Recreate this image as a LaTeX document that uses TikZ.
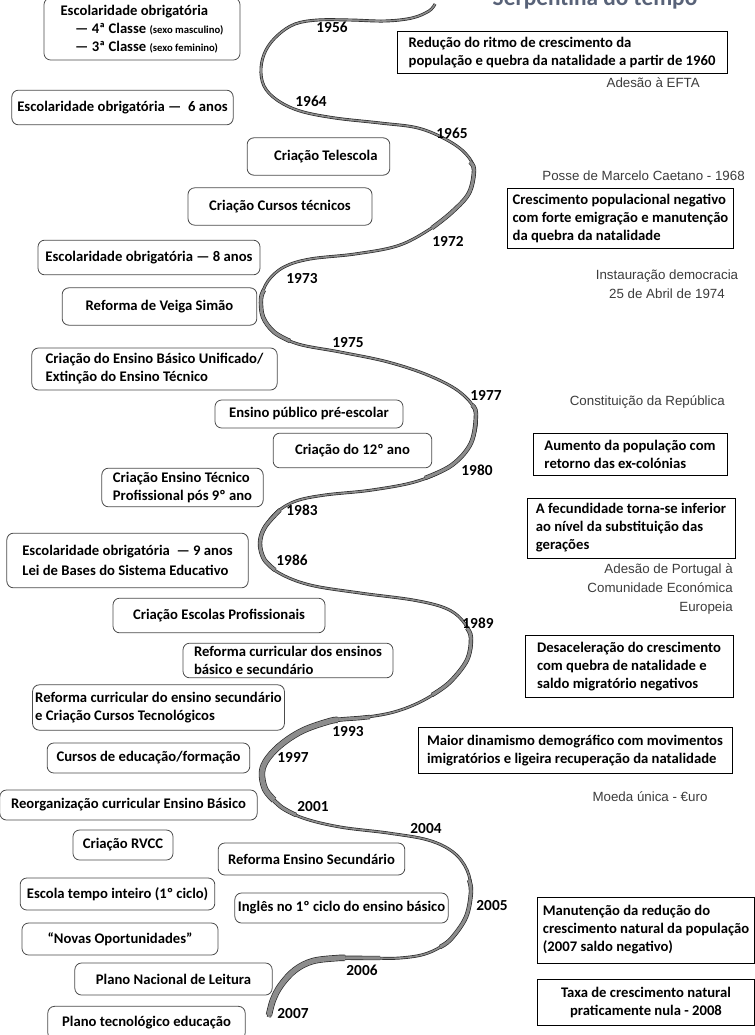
\documentclass[tikz,border=0pt]{standalone}
\usepackage{fontspec}
\setmainfont{Carlito}
\newfontfamily\arialfont{Liberation Sans}
\usetikzlibrary{backgrounds}
\definecolor{notegray}{RGB}{60,60,60}
\definecolor{titleblue}{RGB}{88,98,120}
\newcommand{\boxfont}{\bfseries\fontsize{11}{13.5}\selectfont}
\newcommand{\yearfont}{\bfseries\fontsize{11.5}{13}\selectfont}
\newcommand{\notefont}{\arialfont\fontsize{10}{14.5}\selectfont}
\newcommand{\sexo}[1]{{\fontsize{8}{9}\selectfont #1}}

\begin{document}
\begin{tikzpicture}[x=0.75pt, y=-0.75pt,
	lbox/.style={draw=black!70, line width=0.6pt, rounded corners=5pt, fill=white, font=\boxfont, inner sep=2pt},
	rbox/.style={draw=black, line width=0.7pt, fill=white, font=\boxfont, align=left, inner sep=2pt},
	year/.style={font=\yearfont, inner sep=0pt},
	note/.style={font=\notefont, text=notegray, inner sep=0pt},
	link/.style={draw=black!65, line width=0.5pt},
	ribbon/.style={draw=black!85, line width=0.5pt, double=black!45, double distance=1.2pt},
	ribbon mid/.style={ribbon, double distance=2.3pt},
	ribbon thick/.style={ribbon, double distance=3.8pt}]
	\useasboundingbox (0,0) rectangle (755,1035);
	\clip (0,0) rectangle (755,1035);
	\fill[white] (0,0) rectangle (755,1035);
	% title, cut by the top edge
	\node[font=\bfseries\fontsize{17.5}{19}\selectfont, text=titleblue, anchor=base] (title) at (595,6) {Serpentina do tempo};

	% education boxes (left)
	\node[lbox, align=left, minimum width=147pt, minimum height=46.5pt] (b1956) at (142,29) {Escolaridade obrigatória\\ \hspace*{1em}— 4ª Classe \sexo{(sexo masculino)}\\ \hspace*{1em}— 3ª Classe \sexo{(sexo feminino)}};
	\node[lbox, minimum width=166pt, minimum height=26pt] (b1964) at (122.5,107.5) {Escolaridade obrigatória —\ \ 6 anos};
	\node[lbox, minimum width=107pt, minimum height=28pt] (b1965) at (318.5,156.5) {\hspace*{1em}Criação Telescola};
	\node[lbox, minimum width=138pt, minimum height=28pt] (b1972) at (280,206.5) {Criação Cursos técnicos};
	\node[lbox, minimum width=166.5pt, minimum height=26pt] (b1973) at (149,257.5) {Escolaridade obrigatória — 8 anos};
	\node[lbox, minimum width=146pt, minimum height=28pt] (b1973v) at (159.5,306.5) {Reforma de Veiga Simão};
	\node[lbox, align=left, minimum width=184pt, minimum height=31.5pt] (b1975) at (154.5,369) {Criação do Ensino Básico Unificado/\\Extinção do Ensino Técnico};
	\node[lbox, minimum width=141pt, minimum height=21pt] (b1977) at (309,414) {Ensino público pré-escolar};
	\node[lbox, minimum width=119pt, minimum height=26pt] (b1980) at (352.5,450.5) {Criação do 12º ano};
	\node[lbox, align=left, minimum width=121pt, minimum height=29pt] (b1983) at (182.5,487.5) {Criação Ensino Técnico\\Profissional pós 9º ano};
	\node[lbox, align=left, minimum width=181pt, minimum height=41pt] (b1986) at (127.5,560.5) {Escolaridade obrigatória\ \ — 9 anos\\[1.5pt]Lei de Bases do Sistema Educativo};
	\node[lbox, minimum width=159pt, minimum height=26pt] (b1989) at (219,615.5) {Criação Escolas Profissionais};
	\node[lbox, align=left, minimum width=157.5pt, minimum height=26pt] (b1989r) at (288,660.5) {Reforma curricular dos ensinos\\básico e secundário};
	\node[lbox, align=left, minimum width=185pt, minimum height=34pt] (b1993) at (158.5,707.5) {Reforma curricular do ensino secundário\\e Criação Cursos Tecnológicos};
	\node[lbox, minimum width=152pt, minimum height=22.5pt] (b1997) at (148.5,758) {Cursos de educação/formação};
	\node[lbox, minimum width=193pt, minimum height=22.5pt] (b2001) at (128.5,805) {Reorganização curricular Ensino Básico};
	\node[lbox, minimum width=75pt, minimum height=22.5pt] (b2001r) at (123,845) {Criação RVCC};
	\node[lbox, minimum width=140pt, minimum height=24pt] (b2004) at (311.5,859) {Reforma Ensino Secundário};
	\node[lbox, minimum width=146pt, minimum height=24pt] (b2005e) at (117.5,894) {Escola tempo inteiro (1º ciclo)};
	\node[lbox, minimum width=160pt, minimum height=22.5pt] (b2005) at (341.5,908) {Inglês no 1º ciclo do ensino básico};
	\node[lbox, minimum width=147pt, minimum height=24pt] (b2006n) at (120,939) {“Novas Oportunidades”};
	\node[lbox, minimum width=148pt, minimum height=24pt] (b2006) at (173.5,979) {Plano Nacional de Leitura};
	\node[lbox, minimum width=148pt, minimum height=25pt] (b2007) at (146.5,1023) {Plano tecnológico educação};

	% population boxes (right)
	\node[rbox, minimum width=247.5pt, minimum height=31pt] (p1960) at (562,52.5) {Redução do ritmo de crescimento da\\população e quebra da natalidade a partir de 1960};
	\node[rbox, minimum width=169pt, minimum height=45pt] (p1968) at (620.5,218) {Crescimento populacional negativo\\com forte emigração e manutenção\\da quebra da natalidade};
	\node[rbox, minimum width=145.5pt, minimum height=31.5pt] (p1976) at (630,454) {Aumento da população com\\retorno das ex-colónias};
	\node[rbox, minimum width=156pt, minimum height=45pt] (p1983) at (631,528) {A fecundidade torna-se inferior\\ao nível da substituição das\\gerações};
	\node[rbox, minimum width=156pt, minimum height=47pt] (p1990) at (629,666.5) {Desaceleração do crescimento\\com quebra de natalidade e\\saldo migratório negativos};
	\node[rbox, minimum width=235.5pt, minimum height=34pt] (p1995) at (575,750.5) {Maior dinamismo demográfico com movimentos\\imigratórios e ligeira recuperação da natalidade};
	\node[rbox, minimum width=163pt, minimum height=49.5pt] (p2007) at (646,930) {Manutenção da redução do\\crescimento natural da população\\(2007 saldo negativo)};
	\node[rbox, align=center, minimum width=163pt, minimum height=34pt] (p2008) at (646,1002.5) {Taxa de crescimento natural\\praticamente nula - 2008};

	% political notes
	\node[note, anchor=east] (nEFTA) at (700,83) {Adesão à EFTA};
	\node[note, anchor=east] (nCaetano) at (745,176) {Posse de Marcelo Caetano - 1968};
	\node[note, align=center] (nAbril) at (667,284) {Instauração democracia\\25 de Abril de 1974};
	\node[note, anchor=east] (nConst) at (725,402) {Constituição da República};
	\node[note, align=right, anchor=east] (nCEE) at (733,589) {Adesão de Portugal à\\Comunidade Económica\\Europeia};
	\node[note] (nEuro) at (650,797) {Moeda única - €uro};

	% points of the serpentine
	\coordinate (k1956) at (297,21);
	\coordinate (k1964) at (276,101);
	\coordinate (k1965) at (472,162);
	\coordinate (k1972) at (434,226);
	\coordinate (k1973) at (281,268);
	\coordinate (k1973v) at (262,303);
	\coordinate (k1975) at (304,346);
	\coordinate (k1977) at (470,402);
	\coordinate (k1980) at (457,461);
	\coordinate (k1983) at (277,511);
	\coordinate (k1986) at (263,559);
	\coordinate (k1989) at (463,621);
	\coordinate (k1989r) at (468,629);
	\coordinate (k1993) at (322,723);
	\coordinate (k1997) at (266,752);
	\coordinate (k2001) at (278,804);
	\coordinate (k2001r) at (287,810);
	\coordinate (k2004) at (400,835);
	\coordinate (k2005) at (466,903);
	\coordinate (k2006n) at (322,960);
	\coordinate (k2006) at (290,970);
	\coordinate (k2007) at (269,1011);

	% connectors
	\begin{scope}[on background layer]
	\draw[link] (b1956.9) -- (k1956);
	\draw[link] (b1964.east) -- (k1964);
	\draw[link] (b1965.east) -- (k1965);
	\draw[link] (b1972.east) -- (k1972);
	\draw[link] (b1973.east) -- (k1973);
	\draw[link] (b1973v.east) -- (k1973v);
	\draw[link] (b1975.7) -- (k1975);
	\draw[link] (b1977.east) -- (k1977);
	\draw[link] (b1980.east) -- (k1980);
	\draw[link] (b1983.east) -- (k1983);
	\draw[link] (b1986.east) -- (k1986);
	\draw[link] (b1989.east) -- (k1989);
	\draw[link] (b1989r.east) -- (k1989r);
	\draw[link] (b1993.4) -- (k1993);
	\draw[link] (b1997.east) -- (k1997);
	\draw[link] (b2001.east) -- (k2001);
	\draw[link] (b2001r.12) -- (k2001r);
	\draw[link] (b2004.14) -- (k2004);
	\draw[link] (b2005e.east) -- (k2005);
	\draw[link] (b2005.east) -- (k2005);
	\draw[link] (b2006n.east) -- (k2006n);
	\draw[link] (b2006.east) -- (k2006);
	\draw[link] (b2007.east) -- (k2007);
	\end{scope}

	% the serpentine
	\draw[ribbon] plot[smooth, tension=0.6] coordinates {(435,4) (429,11) (412,18) (385,21) (350,20) (318,20) (295,24) (278,35) (266,50) (261,68) (264,86) (277,100) (300,111) (335,118) (380,123) (418,128) (447,140) (466,154) (474,170) (469,193) (452,212) (427,231) (397,246) (355,254) (310,259) (284,267) (268,281) (261,299) (263,317) (274,332) (298,344) (340,352) (388,362) (430,376) (461,393) (476,414) (471,443) (452,465) (418,481) (372,490) (325,495) (296,501) (277,512) (265,527) (260,543) (264,559) (279,573) (310,585) (360,593) (413,600) (445,608) (462,620) (471,638) (467,660) (450,682) (424,700) (394,712) (360,718) (330,721) (304,730) (283,743) (268,758) (262,772) (265,789) (280,806) (303,818) (340,827) (388,833) (428,840) (453,852) (467,870) (471,892) (466,917) (451,939) (428,953) (400,958) (368,958) (338,958) (313,961) (295,970) (281,985) (273,1000) (269,1017)};
	% wider turns of the ribbon
	\draw[ribbon mid] plot[smooth, tension=0.6] coordinates {(470,162) (474,170) (469,193) (452,212) (432,228)};
	\draw[ribbon mid] plot[smooth, tension=0.6] coordinates {(264,290) (261,299) (263,317) (274,332) (290,341)};
	\draw[ribbon mid] plot[smooth, tension=0.6] coordinates {(472,405) (476,414) (471,443) (452,465) (425,478)};
	\draw[ribbon mid] plot[smooth, tension=0.6] coordinates {(280,510) (265,527) (260,543) (264,559) (275,570)};
	\draw[ribbon mid] plot[smooth, tension=0.6] coordinates {(467,628) (471,638) (467,660) (450,682) (432,695)};
	\draw[ribbon mid] plot[smooth, tension=0.6] coordinates {(370,717) (360,718) (330,721) (304,730) (283,743) (268,758) (262,772) (265,789) (280,806) (296,815)};
	\draw[ribbon thick] plot[smooth, tension=0.6] coordinates {(338,720) (330,721) (304,730) (283,743) (268,758) (262,772) (265,789) (274,800)};
	\draw[ribbon mid] plot[smooth, tension=0.6] coordinates {(469,880) (471,892) (466,917) (451,939) (440,947)};
	\draw[ribbon mid] plot[smooth, tension=0.6] coordinates {(380,958) (368,958) (338,958) (313,961) (295,970) (281,985) (273,1000) (269,1017)};
	\draw[ribbon thick] plot[smooth, tension=0.6] coordinates {(345,958) (338,958) (313,961) (295,970) (281,985) (273,1000) (269,1015)};

	% years
	\node[year] (y1956) at (332,27) {1956};
	\node[year] (y1964) at (311,101) {1964};
	\node[year] (y1965) at (452,133) {1965};
	\node[year] (y1972) at (448,241) {1972};
	\node[year] (y1973) at (302,279) {1973};
	\node[year] (y1975) at (348,343) {1975};
	\node[year] (y1977) at (486,395) {1977};
	\node[year] (y1980) at (477,470) {1980};
	\node[year] (y1983) at (302,510) {1983};
	\node[year] (y1986) at (292,560) {1986};
	\node[year] (y1989) at (478,623) {1989};
	\node[year] (y1993) at (348,732) {1993};
	\node[year] (y1997) at (293,757) {1997};
	\node[year] (y2001) at (313,807) {2001};
	\node[year] (y2004) at (426,829) {2004};
	\node[year] (y2005) at (492,906) {2005};
	\node[year] (y2006) at (362,970) {2006};
	\node[year] (y2007) at (293,1014) {2007};
\end{tikzpicture}
\end{document}
